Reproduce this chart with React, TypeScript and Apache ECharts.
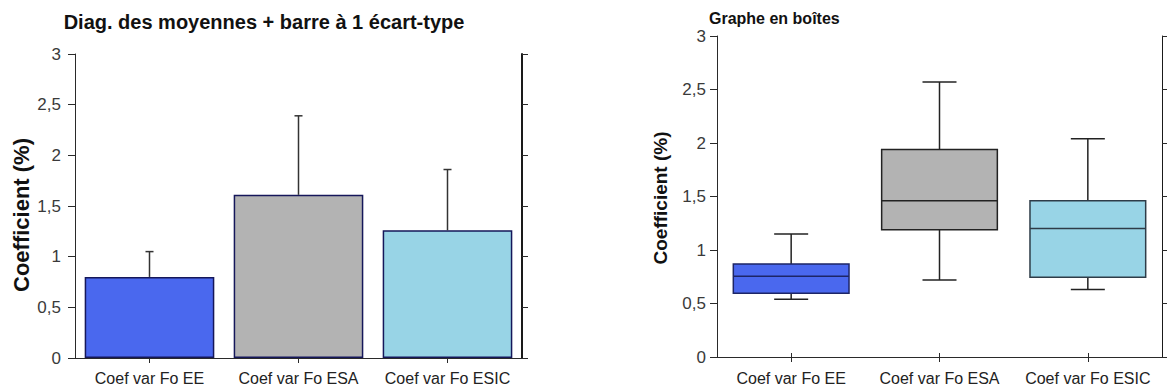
import React, { useEffect, useRef } from "react";
import * as echarts from "echarts";

const categories = ["Coef var Fo EE", "Coef var Fo ESA", "Coef var Fo ESIC"];
const meanValues = [0.8, 1.61, 1.26];
const sdValues = [0.25, 0.78, 0.6];
const boxLow = [0.54, 0.72, 0.63];
const boxQ1 = [0.595, 1.19, 0.745];
const boxMedian = [0.755, 1.46, 1.2];
const boxQ3 = [0.87, 1.94, 1.46];
const boxHigh = [1.15, 2.57, 2.04];
const barColors = ["#4a68ee", "#b3b3b3", "#98d4e6"];
const boxBorders = ["#1d2566", "#222222", "#2e3c48"];
const leftTitle = "Diag. des moyennes + barre à 1 écart-type";
const rightTitle = "Graphe en boîtes";
const yName = "Coefficient (%)";

const FONT = '"Liberation Sans", Arial, sans-serif';

function yAxisPair(gridIndex: number, rightWidth: number, labelMargin: number) {
  const fmt = (v: number) => String(v).replace(".", ",");
  return [
    {
      gridIndex,
      type: "value",
      position: "left",
      min: 0,
      max: 3,
      interval: 0.5,
      splitLine: { show: false },
      axisLine: { show: true, lineStyle: { color: "#2a2a2a", width: 1 } },
      axisTick: { show: true, length: 7, lineStyle: { color: "#2a2a2a" } },
      axisLabel: {
        formatter: fmt,
        margin: labelMargin,
        fontSize: 17,
        fontFamily: FONT,
        color: "#3a3a3a",
      },
    },
    {
      gridIndex,
      type: "value",
      position: "right",
      min: 0,
      max: 3,
      interval: 0.5,
      splitLine: { show: false },
      axisLine: { show: true, lineStyle: { color: "#1a1a1a", width: rightWidth } },
      axisTick: { show: true, length: 6, lineStyle: { color: "#2a2a2a" } },
      axisLabel: { show: false },
    },
  ];
}

function xAxisPair(gridIndex: number, labelMargin: number) {
  return [
    {
      gridIndex,
      type: "category",
      position: "bottom",
      data: categories,
      axisLine: { show: true, lineStyle: { color: "#2a2a2a" } },
      axisTick: { show: true, alignWithLabel: true, length: 5, lineStyle: { color: "#2a2a2a" } },
      axisLabel: {
        margin: labelMargin,
        fontSize: 16,
        fontFamily: FONT,
        color: "#222",
        interval: 0,
      },
    },
    {
      gridIndex,
      type: "category",
      position: "top",
      data: categories,
      axisLine: { show: true, lineStyle: { color: "#2a2a2a" } },
      axisTick: { show: true, alignWithLabel: true, length: 4, lineStyle: { color: "#2a2a2a" } },
      axisLabel: { show: false },
    },
  ];
}

export default function App() {
  const ref = useRef<HTMLDivElement>(null);
  useEffect(() => {
    if (!ref.current) return;
    const chart = echarts.init(ref.current, null, { renderer: "svg" });

    const errorData = meanValues.map((m, i) => [i, m, sdValues[i]]);
    const boxData = categories.map((_, i) => [
      i,
      boxLow[i],
      boxQ1[i],
      boxMedian[i],
      boxQ3[i],
      boxHigh[i],
    ]);

    const option: any = {
      animation: false,
      grid: [
        { left: 75, top: 54, width: 447, height: 304 },
        { left: 717, top: 36, width: 445, height: 321 },
      ],
      xAxis: [...xAxisPair(0, 12), ...xAxisPair(1, 13)],
      yAxis: [...yAxisPair(0, 2, 14), ...yAxisPair(1, 1, 11)],
      series: [
        {
          type: "bar",
          xAxisIndex: 0,
          yAxisIndex: 0,
          barWidth: "87%",
          data: meanValues.map((v, i) => ({
            value: v,
            itemStyle: {
              color: barColors[i],
              borderColor: "#15175a",
              borderWidth: 1.5,
            },
          })),
          z: 2,
        },
        {
          type: "custom",
          xAxisIndex: 0,
          yAxisIndex: 0,
          z: 3,
          data: errorData,
          encode: { x: 0, y: 1 },
          renderItem: (params: any, api: any) => {
            const x = api.value(0);
            const m = api.value(1);
            const sd = api.value(2);
            const p0 = api.coord([x, m]);
            const p1 = api.coord([x, m + sd]);
            const st = { stroke: "#333", lineWidth: 1.5 };
            return {
              type: "group",
              children: [
                { type: "line", shape: { x1: p0[0], y1: p0[1], x2: p1[0], y2: p1[1] }, style: st },
                { type: "line", shape: { x1: p1[0] - 4, y1: p1[1], x2: p1[0] + 4, y2: p1[1] }, style: st },
              ],
            };
          },
        },
        {
          type: "custom",
          xAxisIndex: 2,
          yAxisIndex: 2,
          z: 3,
          data: boxData,
          encode: { x: 0, y: [1, 2, 3, 4, 5] },
          renderItem: (params: any, api: any) => {
            const i = api.value(0);
            const lo = api.coord([i, api.value(1)]);
            const q1 = api.coord([i, api.value(2)]);
            const md = api.coord([i, api.value(3)]);
            const q3 = api.coord([i, api.value(4)]);
            const hi = api.coord([i, api.value(5)]);
            const band = api.size([1, 0])[0];
            const bw = band * 0.78;
            const cw = 17;
            const cx = lo[0];
            const st = { stroke: "#222", lineWidth: 1.5 };
            const idx = params.dataIndex;
            return {
              type: "group",
              children: [
                { type: "line", shape: { x1: cx, y1: lo[1], x2: cx, y2: q1[1] }, style: st },
                { type: "line", shape: { x1: cx, y1: q3[1], x2: cx, y2: hi[1] }, style: st },
                { type: "line", shape: { x1: cx - cw, y1: lo[1], x2: cx + cw, y2: lo[1] }, style: st },
                { type: "line", shape: { x1: cx - cw, y1: hi[1], x2: cx + cw, y2: hi[1] }, style: st },
                {
                  type: "rect",
                  shape: { x: cx - bw / 2, y: q3[1], width: bw, height: q1[1] - q3[1] },
                  style: { fill: barColors[idx], stroke: boxBorders[idx], lineWidth: 1.5 },
                },
                {
                  type: "line",
                  shape: { x1: cx - bw / 2, y1: md[1], x2: cx + bw / 2, y2: md[1] },
                  style: { stroke: boxBorders[idx], lineWidth: 1.5 },
                },
              ],
            };
          },
        },
      ],
      graphic: [
        {
          type: "text",
          x: 264,
          y: 22,
          style: {
            text: leftTitle,
            fontSize: 20,
            fontWeight: "bold",
            fontFamily: FONT,
            fill: "#111",
            align: "center",
            verticalAlign: "middle",
          },
        },
        {
          type: "text",
          x: 709,
          y: 18,
          style: {
            text: rightTitle,
            fontSize: 16,
            fontWeight: "bold",
            fontFamily: FONT,
            fill: "#111",
            align: "left",
            verticalAlign: "middle",
          },
        },
        {
          type: "text",
          x: 21,
          y: 215,
          rotation: Math.PI / 2,
          style: {
            text: yName,
            fontSize: 22,
            fontWeight: "bold",
            fontFamily: FONT,
            fill: "#111",
            align: "center",
            verticalAlign: "middle",
          },
        },
        {
          type: "text",
          x: 660,
          y: 198,
          rotation: Math.PI / 2,
          style: {
            text: yName,
            fontSize: 19,
            fontWeight: "bold",
            fontFamily: FONT,
            fill: "#111",
            align: "center",
            verticalAlign: "middle",
          },
        },
      ],
    };
    chart.setOption(option);
    return () => chart.dispose();
  }, []);

  return (
    <div
      ref={ref}
      style={{ position: "fixed", left: 0, top: 0, width: 1167, height: 389, background: "#fff" }}
    />
  );
}
